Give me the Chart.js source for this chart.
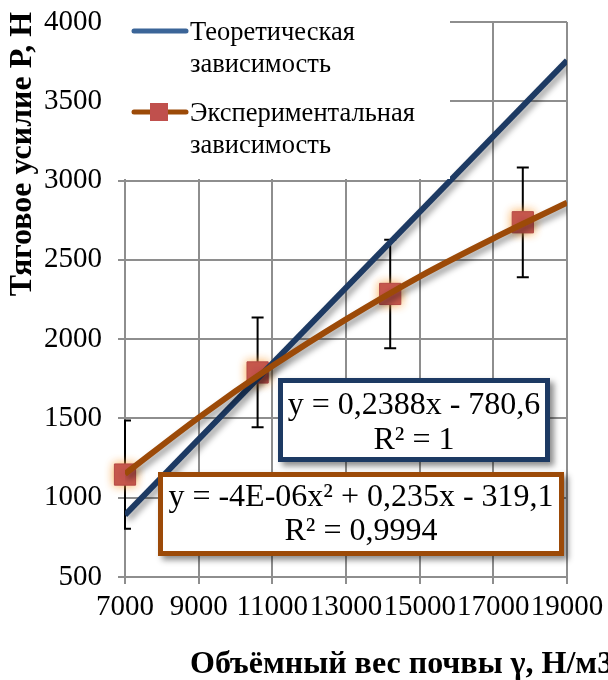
<!DOCTYPE html>
<html>
<head>
<meta charset="utf-8">
<script src="https://cdn.jsdelivr.net/npm/chart.js@4"></script>
<style>
html, body { margin: 0; padding: 0; background: #fff; }
#wrap { width: 608px; height: 680px; }
</style>
</head>
<body>
<div id="wrap"><canvas id="chart" width="608" height="680"></canvas></div>
<script>
// values
var expX = [7000, 10600, 14200, 17800];
var expY = [1146, 1790, 2285, 2737];
var expErr = [341, 346, 342, 346];

var theoryX = [7000, 19000];
var theoryY = [891, 3757];

// polynomial trend curve, read at the vertical grid lines
var fitX = [7000, 9000, 11000, 13000, 15000, 17000, 19000];
var fitY = [1150, 1505, 1830, 2125, 2395, 2635, 2860];

var xTickMin = 7000, xTickMax = 19000, xTickStep = 2000;
var yTickMin = 500, yTickMax = 4000, yTickStep = 500;

var legendLabels = [["Теоретическая", "зависимость"], ["Экспериментальная", "зависимость"]];
var eqTheory = ["y = 0,2388x - 780,6", "R² = 1"];
var eqExp = ["y = -4E-06x² + 0,235x - 319,1", "R² = 0,9994"];
var xTitle = "Объёмный вес почвы γ, Н/м3";
var yTitle = "Тяговое усилие Р, Н";

var BLUE = "#1d3a63", BLUE_LEG = "#3b6598";
var ORANGE = "#9c4a08";
var RED = "#c0504d";
var GRID = "#8e8e8e";
var SERIF = "'Liberation Serif', 'Times New Roman', serif";

function pts(xs, ys) {
	return xs.map(function(x, i) { return {x: x, y: ys[i]}; });
}

function eqBox(ctx, x, y, w, h, color, lines, rowY) {
	ctx.save();
	ctx.shadowColor = "rgba(0,0,0,0.45)";
	ctx.shadowBlur = 6;
	ctx.shadowOffsetX = 4;
	ctx.shadowOffsetY = 4;
	ctx.fillStyle = "#fff";
	ctx.fillRect(x, y, w, h);
	ctx.restore();
	ctx.save();
	ctx.strokeStyle = color;
	ctx.lineWidth = 5;
	ctx.strokeRect(x + 2.5, y + 2.5, w - 5, h - 5);
	ctx.fillStyle = "#000";
	ctx.font = "32px " + SERIF;
	ctx.textAlign = "center";
	ctx.textBaseline = "middle";
	lines.forEach(function(t, i) { ctx.fillText(t, x + w / 2, rowY[i]); });
	ctx.restore();
}

var decor = {
	id: "decor",
	beforeDatasetsDraw: function(chart) {
		// error bars, under the markers
		var ctx = chart.ctx, a = chart.chartArea;
		var xs = chart.scales.x, ys = chart.scales.y;
		ctx.save();
		ctx.beginPath();
		ctx.rect(a.left - 1, a.top, a.right - a.left + 2, a.bottom - a.top);
		ctx.clip();
		ctx.strokeStyle = "#000";
		ctx.lineWidth = 2;
		expX.forEach(function(x, i) {
			var px = xs.getPixelForValue(x);
			var top = ys.getPixelForValue(expY[i] + expErr[i]);
			var bot = ys.getPixelForValue(expY[i] - expErr[i]);
			ctx.beginPath();
			ctx.moveTo(px, top); ctx.lineTo(px, bot);
			ctx.moveTo(px - 6, top); ctx.lineTo(px + 6, top);
			ctx.moveTo(px - 6, bot); ctx.lineTo(px + 6, bot);
			ctx.stroke();
		});
		ctx.restore();
	},
	beforeDatasetDraw: function(chart, args) {
		var ctx = chart.ctx;
		var ds = chart.data.datasets[args.index];
		ctx.save();
		if (ds.glow) {
			ctx.shadowColor = "rgba(250,165,70,0.95)";
			ctx.shadowBlur = 10;
		} else {
			ctx.shadowColor = "rgba(0,0,0,0.4)";
			ctx.shadowBlur = 6;
			ctx.shadowOffsetX = 3;
			ctx.shadowOffsetY = 4;
		}
	},
	afterDatasetDraw: function(chart) {
		chart.ctx.restore();
	},
	afterDraw: function(chart) {
		var ctx = chart.ctx;

		// legend sits on a white box over the grid
		ctx.save();
		ctx.fillStyle = "#fff";
		ctx.fillRect(110, 0, 340, 179);
		ctx.lineCap = "round";
		ctx.lineWidth = 5;
		ctx.strokeStyle = BLUE_LEG;
		ctx.beginPath(); ctx.moveTo(134, 31); ctx.lineTo(186, 31); ctx.stroke();
		ctx.strokeStyle = ORANGE;
		ctx.beginPath(); ctx.moveTo(134, 112); ctx.lineTo(186, 112); ctx.stroke();
		ctx.fillStyle = RED;
		ctx.fillRect(150, 103, 18, 18);
		ctx.fillStyle = "#000";
		ctx.font = "26.5px " + SERIF;
		ctx.textBaseline = "middle";
		ctx.fillText(legendLabels[0][0], 190, 33);
		ctx.fillText(legendLabels[0][1], 190, 65);
		ctx.fillText(legendLabels[1][0], 190, 114);
		ctx.fillText(legendLabels[1][1], 190, 146);
		ctx.restore();

		eqBox(ctx, 278, 378, 272, 84, BLUE, eqTheory, [406, 441]);
		eqBox(ctx, 158, 472, 406, 84, ORANGE, eqExp, [498, 532]);

		// axis titles
		ctx.save();
		ctx.fillStyle = "#000";
		ctx.font = "bold 32px " + SERIF;
		ctx.textBaseline = "middle";
		ctx.textAlign = "left";
		ctx.fillText(xTitle, 190, 665);
		ctx.translate(23, 154);
		ctx.rotate(-Math.PI / 2);
		ctx.textAlign = "center";
		ctx.fillText(yTitle, 0, 0);
		ctx.restore();
	}
};

var cfg = {
	type: "scatter",
	data: {
		datasets: [
			{
				label: "Экспериментальная зависимость (тренд)",
				data: pts(fitX, fitY),
				showLine: true,
				cubicInterpolationMode: "monotone",
				borderColor: ORANGE,
				borderWidth: 6,
				borderCapStyle: "butt",
				pointRadius: 0
			},
			{
				label: "Теоретическая зависимость",
				data: pts(theoryX, theoryY),
				showLine: true,
				borderColor: BLUE,
				borderWidth: 6,
				borderCapStyle: "butt",
				pointRadius: 0
			},
			{
				label: "Экспериментальная зависимость",
				data: pts(expX, expY),
				glow: true,
				clip: false,
				pointStyle: "rect",
				pointRadius: 15,
				pointBackgroundColor: RED,
				pointBorderColor: "#b44a47",
				pointBorderWidth: 1
			}
		]
	},
	options: {
		responsive: false,
		animation: false,
		devicePixelRatio: 1,
		layout: { padding: { top: 22, right: 41, left: 0, bottom: 0 } },
		plugins: { legend: { display: false }, tooltip: { enabled: false } },
		scales: {
			x: {
				type: "linear",
				min: xTickMin, max: xTickMax,
				afterFit: function(s) { s.height = 103; s.paddingLeft = 0; s.paddingRight = 0; },
				ticks: {
					stepSize: xTickStep, autoSkip: false, maxRotation: 0, padding: 6,
					color: "#000", font: { family: SERIF, size: 29 },
					callback: function(v) { return String(v); }
				},
				grid: { color: GRID, lineWidth: 2, tickLength: 7 },
				border: { color: GRID, width: 2 }
			},
			y: {
				type: "linear",
				min: yTickMin, max: yTickMax,
				afterFit: function(s) { s.width = 125; s.paddingTop = 0; s.paddingBottom = 0; },
				ticks: {
					stepSize: yTickStep, padding: 16,
					color: "#000", font: { family: SERIF, size: 29 },
					callback: function(v) { return String(v); }
				},
				grid: { color: GRID, lineWidth: 2, tickLength: 7 },
				border: { color: GRID, width: 2 }
			}
		}
	},
	plugins: [decor]
};

new Chart(document.getElementById("chart"), cfg);
</script>
</body>
</html>
